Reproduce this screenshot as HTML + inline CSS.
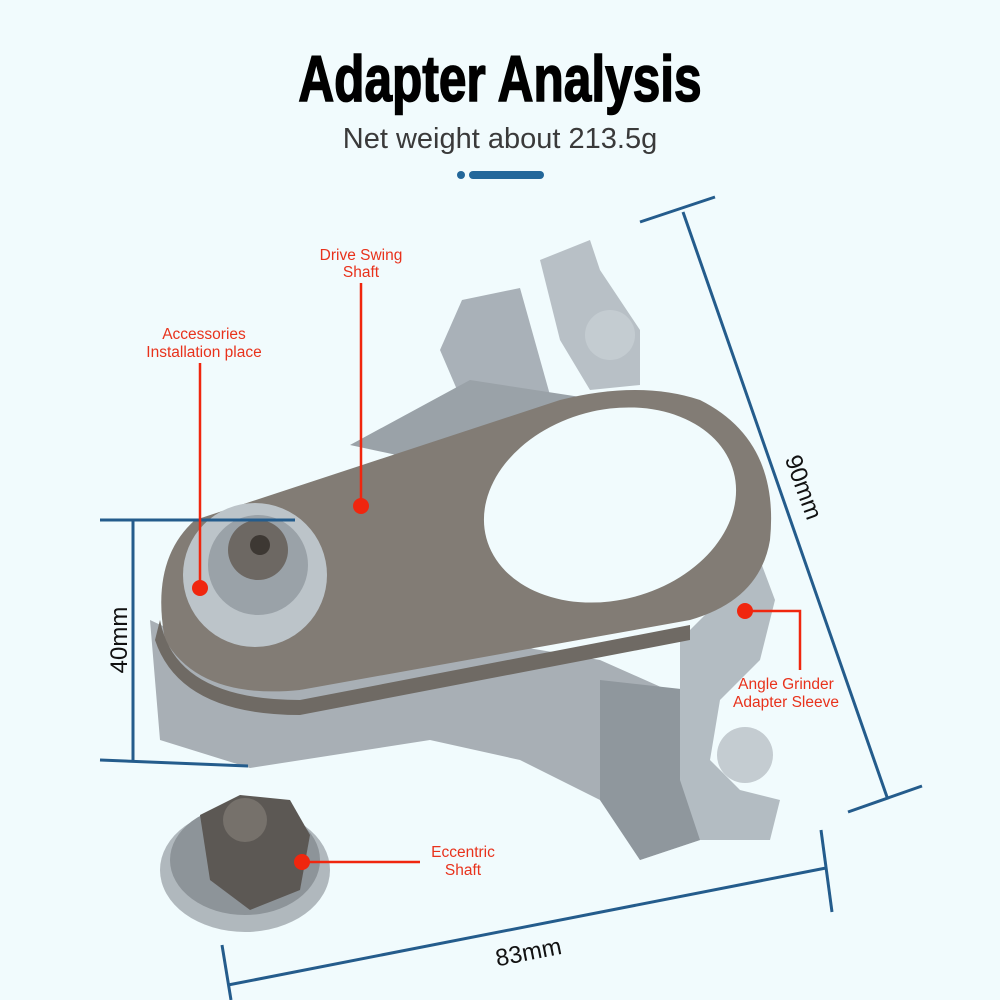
<!DOCTYPE html>
<html><head><meta charset="utf-8"><style>
html,body{margin:0;padding:0;background:#f1fbfd;}
svg{display:block}
</style></head><body>
<svg width="1000" height="1000" viewBox="0 0 1000 1000" xmlns="http://www.w3.org/2000/svg">
<rect width="1000" height="1000" fill="#f1fbfd"/>
<text x="500" y="96" text-anchor="middle" font-family="Liberation Sans, sans-serif" font-weight="bold" font-size="62" fill="#000" transform="translate(500 0) scale(0.8 1.05) translate(-500 0)" stroke="#000" stroke-width="1.5">Adapter Analysis</text>
<text x="500" y="148" text-anchor="middle" font-family="Liberation Sans, sans-serif" font-size="29" fill="#3a3a3a">Net weight about 213.5g</text>
<circle cx="461" cy="175" r="4" fill="#23679a"/>
<rect x="469" y="171" width="75" height="8" rx="4" fill="#23679a"/>

<g>
<polygon points="462,300 520,288 550,395 470,420 440,350" fill="#a9b1b8"/>
<polygon points="540,260 590,240 600,270 640,330 640,385 590,390 560,340" fill="#b8c0c6"/>
<polygon points="350,445 470,380 600,400 560,440 420,460" fill="#9aa2a8"/>
<polygon points="150,620 160,740 250,768 430,740 520,760 600,800 640,860 700,840 690,700 600,660 480,640 300,690" fill="#a8afb5"/>
<polygon points="600,680 690,690 700,840 640,860 600,800" fill="#8f979d"/>
<polygon points="680,640 760,560 775,600 760,660 720,700 710,760 740,790 780,800 770,840 700,840 680,780" fill="#b3bcc2"/>
<circle cx="745" cy="755" r="28" fill="#c4ccd1"/>
<circle cx="610" cy="335" r="25" fill="#c4ccd1"/>
<path d="M195,520 L560,400 Q640,380 700,400 Q780,440 770,540 Q760,600 690,620 L300,690 Q200,700 165,640 Q150,560 195,520 Z" fill="#827c75"/>
<ellipse cx="610" cy="505" rx="128" ry="95" fill="#f1fbfd" transform="rotate(-15 610 505)"/>
<path d="M160,620 Q175,700 300,700 L690,625 L690,640 L300,715 Q180,715 155,640 Z" fill="#6f6a64"/>
<circle cx="255" cy="575" r="72" fill="#bcc4c9"/>
<circle cx="258" cy="565" r="50" fill="#9aa2a8"/>
<circle cx="258" cy="550" r="30" fill="#6d6863"/>
<circle cx="260" cy="545" r="10" fill="#3d3833"/>
<ellipse cx="245" cy="870" rx="85" ry="62" fill="#b0b8bd"/>
<ellipse cx="245" cy="860" rx="75" ry="55" fill="#8d9499"/>
<polygon points="200,815 240,795 290,800 310,835 300,890 250,910 210,880" fill="#5c5854"/>
<circle cx="245" cy="820" r="22" fill="#76716b"/>
</g>

<g stroke="#245c8c" stroke-width="3" fill="none">
<line x1="683" y1="212" x2="887" y2="797"/>
<line x1="640" y1="222" x2="715" y2="197"/>
<line x1="848" y1="812" x2="922" y2="786"/>
<line x1="133" y1="520" x2="133" y2="760"/>
<line x1="100" y1="520" x2="295" y2="520"/>
<line x1="100" y1="760" x2="248" y2="766"/>
<line x1="228" y1="985" x2="826" y2="868"/>
<line x1="222" y1="945" x2="231" y2="1000"/>
<line x1="821" y1="830" x2="832" y2="912"/>
</g>
<g font-family="Liberation Sans, sans-serif" font-size="24" fill="#111">
<text x="0" y="0" transform="translate(127 640) rotate(-90)" text-anchor="middle">40mm</text>
<text x="0" y="0" transform="translate(796 490) rotate(70)" text-anchor="middle">90mm</text>
<text x="0" y="0" transform="translate(530 960) rotate(-11)" text-anchor="middle">83mm</text>
</g>

<g stroke="#f0260e" stroke-width="2.5" fill="none">
<line x1="361" y1="283" x2="361" y2="506"/>
<line x1="200" y1="363" x2="200" y2="588"/>
<polyline points="745,611 800,611 800,670"/>
<line x1="302" y1="862" x2="420" y2="862"/>
</g>
<g fill="#f0260e">
<circle cx="361" cy="506" r="8"/>
<circle cx="200" cy="588" r="8"/>
<circle cx="745" cy="611" r="8"/>
<circle cx="302" cy="862" r="8"/>
</g>
<g font-family="Liberation Sans, sans-serif" font-size="15.5" fill="#e8321c" text-anchor="middle">
<text x="361" y="260">Drive Swing</text><text x="361" y="277">Shaft</text>
<text x="204" y="339">Accessories</text><text x="204" y="357">Installation place</text>
<text x="786" y="689">Angle Grinder</text><text x="786" y="707">Adapter Sleeve</text>
<text x="463" y="857">Eccentric</text><text x="463" y="875">Shaft</text>
</g>
</svg>
</body></html>
